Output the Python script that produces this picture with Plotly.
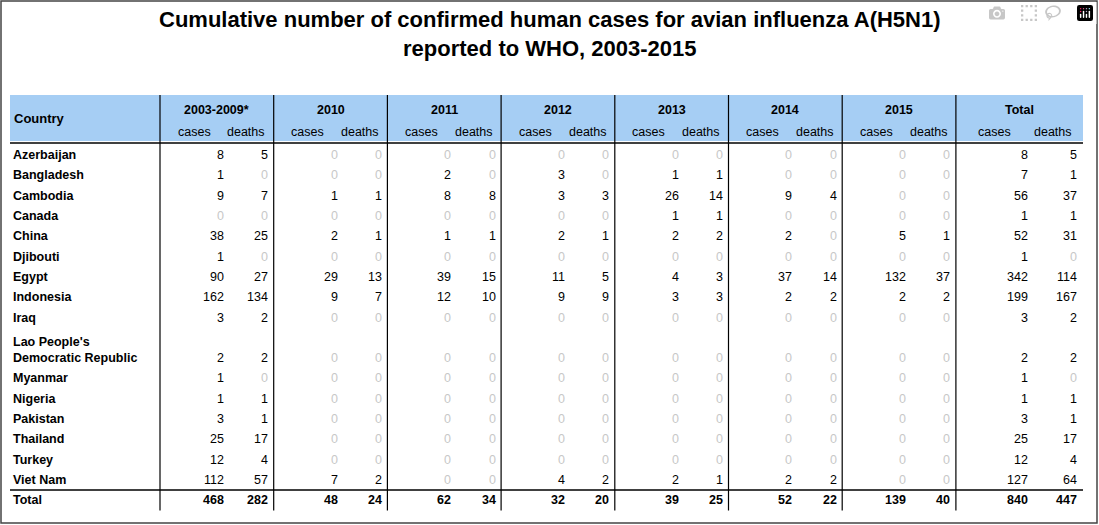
import plotly.graph_objects as go

countries = ["Azerbaijan", "Bangladesh", "Cambodia", "Canada", "China", "Djibouti", "Egypt",
             "Indonesia", "Iraq", "Lao People's<br>Democratic Republic", "Myanmar", "Nigeria",
             "Pakistan", "Thailand", "Turkey", "Viet Nam", "Total"]
periods = ["2003-2009*", "2010", "2011", "2012", "2013", "2014", "2015", "Total"]

# cases, deaths per period
azerbaijan = [8, 5, 0, 0, 0, 0, 0, 0, 0, 0, 0, 0, 0, 0, 8, 5]
bangladesh = [1, 0, 0, 0, 2, 0, 3, 0, 1, 1, 0, 0, 0, 0, 7, 1]
cambodia = [9, 7, 1, 1, 8, 8, 3, 3, 26, 14, 9, 4, 0, 0, 56, 37]
canada = [0, 0, 0, 0, 0, 0, 0, 0, 1, 1, 0, 0, 0, 0, 1, 1]
china = [38, 25, 2, 1, 1, 1, 2, 1, 2, 2, 2, 0, 5, 1, 52, 31]
djibouti = [1, 0, 0, 0, 0, 0, 0, 0, 0, 0, 0, 0, 0, 0, 1, 0]
egypt = [90, 27, 29, 13, 39, 15, 11, 5, 4, 3, 37, 14, 132, 37, 342, 114]
indonesia = [162, 134, 9, 7, 12, 10, 9, 9, 3, 3, 2, 2, 2, 2, 199, 167]
iraq = [3, 2, 0, 0, 0, 0, 0, 0, 0, 0, 0, 0, 0, 0, 3, 2]
lao = [2, 2, 0, 0, 0, 0, 0, 0, 0, 0, 0, 0, 0, 0, 2, 2]
myanmar = [1, 0, 0, 0, 0, 0, 0, 0, 0, 0, 0, 0, 0, 0, 1, 0]
nigeria = [1, 1, 0, 0, 0, 0, 0, 0, 0, 0, 0, 0, 0, 0, 1, 1]
pakistan = [3, 1, 0, 0, 0, 0, 0, 0, 0, 0, 0, 0, 0, 0, 3, 1]
thailand = [25, 17, 0, 0, 0, 0, 0, 0, 0, 0, 0, 0, 0, 0, 25, 17]
turkey = [12, 4, 0, 0, 0, 0, 0, 0, 0, 0, 0, 0, 0, 0, 12, 4]
viet_nam = [112, 57, 7, 2, 0, 0, 4, 2, 2, 1, 2, 2, 0, 0, 127, 64]
total = [468, 282, 48, 24, 62, 34, 32, 20, 39, 25, 52, 22, 139, 40, 840, 447]

rows = [azerbaijan, bangladesh, cambodia, canada, china, djibouti, egypt, indonesia, iraq,
        lao, myanmar, nigeria, pakistan, thailand, turkey, viet_nam, total]
row_units = [1, 1, 1, 1, 1, 1, 1, 1, 1, 2, 1, 1, 1, 1, 1, 1, 1]

FONT = "Liberation Sans, Arial, sans-serif"
left, right = 10, 1083
country_w = 150
group_w = 113.7
last_w = right - (left + country_w + 7 * group_w)
group_x = [left + country_w + i * group_w for i in range(8)]
group_ws = [group_w] * 7 + [last_w]
head_top, head_bot = 95, 141
row_h = 20.3
body_top = 145

fig = go.Figure()
shapes = []
annotations = []

shapes.append(dict(type="rect", x0=left, x1=right, y0=head_top, y1=head_bot,
                   fillcolor="#a6cef4", line=dict(width=0), layer="below"))
shapes.append(dict(type="rect", x0=1, x1=1097, y0=1, y1=523, line=dict(color="#444", width=1.5)))

# row positions
ys = []
y = body_top
for u in row_units:
    ys.append(y + row_h * u - row_h / 2 if u == 1 else y + row_h * 1.5)
    y += row_h * u
body_bot = y

for gx in group_x:
    shapes.append(dict(type="line", x0=gx, x1=gx, y0=head_top, y1=body_bot,
                       line=dict(color="black", width=1.2)))
shapes.append(dict(type="line", x0=left, x1=right, y0=head_bot + 2, y1=head_bot + 2,
                   line=dict(color="black", width=1.5)))
shapes.append(dict(type="line", x0=left, x1=right, y0=ys[-1] - row_h / 2, y1=ys[-1] - row_h / 2,
                   line=dict(color="black", width=1.5)))

annotations.append(dict(x=550, y=34, showarrow=False, xanchor="center", yanchor="middle",
                        text="<b>Cumulative number of confirmed human cases for avian influenza A(H5N1)"
                             "<br>reported to WHO, 2003-2015</b>",
                        font=dict(size=22, family=FONT, color="black")))
annotations.append(dict(x=left + 2, y=118, text="<b>Country</b>", showarrow=False,
                        xanchor="left", font=dict(size=13, family=FONT, color="black")))
for p, gx, gw in zip(periods, group_x, group_ws):
    annotations.append(dict(x=gx + gw / 2, y=110, text="<b>" + p + "</b>", showarrow=False,
                            font=dict(size=12.5, family=FONT, color="black")))
    annotations.append(dict(x=gx + gw * 0.3, y=132, text="cases", showarrow=False,
                            font=dict(size=12.5, family=FONT, color="black")))
    annotations.append(dict(x=gx + gw * 0.76, y=132, text="deaths", showarrow=False,
                            font=dict(size=12.5, family=FONT, color="black")))

for name, yy in zip(countries, ys):
    annotations.append(dict(x=left + 1, y=yy, text="<b>" + name + "</b>", showarrow=False,
                            xanchor="left", yanchor="bottom" if "<br>" in name else "middle",
                            yshift=-9 if "<br>" in name else 0, align="left",
                            font=dict(size=12.5, family=FONT, color="black")))

for ri, (vals, yy) in enumerate(zip(rows, ys)):
    bold = ri == len(rows) - 1
    for k, v in enumerate(vals):
        g, sub = divmod(k, 2)
        gx, gw = group_x[g], group_ws[g]
        xr = gx + gw * (0.58 if sub == 0 else 0.97)
        txt = str(v)
        if bold:
            txt = "<b>" + txt + "</b>"
        annotations.append(dict(x=xr, y=yy, text=txt, showarrow=False, xanchor="right",
                                font=dict(size=12.5, family=FONT,
                                          color="#c8c8c8" if v == 0 else "black")))

fig.add_trace(go.Scatter(x=[0, 1099], y=[0, 525], mode="markers", marker=dict(opacity=0),
                         hoverinfo="skip", showlegend=False))
fig.update_layout(
    width=1099, height=525, margin=dict(l=0, r=0, t=0, b=0),
    paper_bgcolor="white", plot_bgcolor="white",
    xaxis=dict(range=[0, 1099], visible=False, fixedrange=True),
    yaxis=dict(range=[525, 0], visible=False, fixedrange=True),
    shapes=shapes, annotations=annotations,
)
fig.write_html("out.html", post_script="document.body.style.margin='0';document.body.style.overflow='hidden';")
